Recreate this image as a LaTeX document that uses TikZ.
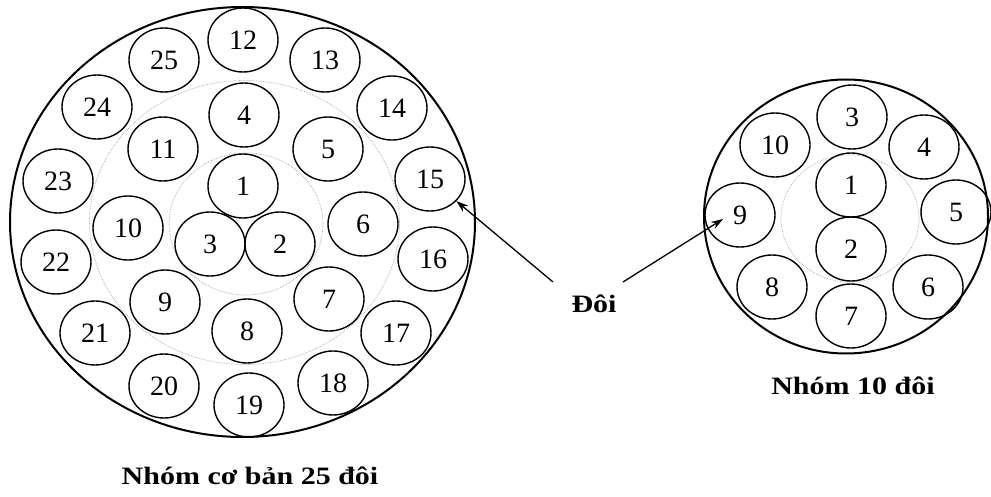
\documentclass[tikz,border=0pt]{standalone}
\usepackage{fontspec}
\setmainfont{Liberation Serif}
\newfontfamily\lblfont[FakeStretch=1.2]{Liberation Serif}
\usetikzlibrary{shapes.geometric,arrows.meta}
\begin{document}
\begin{tikzpicture}[x=1pt,y=-1pt,
  pair/.style={draw,ellipse,line width=1.4pt,minimum width=70pt,minimum height=64pt,inner sep=0pt,
    font=\fontsize{28}{28}\selectfont},
  outerc/.style={draw,ellipse,line width=2pt,inner sep=0pt},
  dotc/.style={draw,ellipse,densely dotted,line width=0.7pt,gray!70,inner sep=0pt},
  lbl/.style={font=\lblfont\bfseries\fontsize{25}{25}\selectfont},
  arr/.style={line width=1.3pt,-{Stealth[length=12pt,width=8pt]}}]
\useasboundingbox (0,0) rectangle (991,497);
% left group
\node[outerc,minimum width=465pt,minimum height=430pt] (LO) at (242.5,222) {};
\node[dotc,minimum width=310pt,minimum height=284pt] (LD2) at (244.5,222.5) {};
\node[dotc,minimum width=154pt,minimum height=142pt] (LD1) at (246,224) {};
\node[pair] (L1) at (243,186) {1};
\node[pair] (L2) at (280,244) {2};
\node[pair] (L3) at (210,244) {3};
\node[pair] (L4) at (244,115) {4};
\node[pair] (L5) at (328,149) {5};
\node[pair] (L6) at (363,224) {6};
\node[pair] (L7) at (329,299) {7};
\node[pair] (L8) at (247,331) {8};
\node[pair] (L9) at (165,302) {9};
\node[pair] (L10) at (128,228) {10};
\node[pair] (L11) at (163,149) {11};
\node[pair] (L12) at (243,40) {12};
\node[pair] (L13) at (325,60) {13};
\node[pair] (L14) at (392,108) {14};
\node[pair] (L15) at (430,179) {15};
\node[pair] (L16) at (433,259) {16};
\node[pair] (L17) at (396,333) {17};
\node[pair] (L18) at (333,383) {18};
\node[pair] (L19) at (249,405) {19};
\node[pair] (L20) at (164,386) {20};
\node[pair] (L21) at (95,333) {21};
\node[pair] (L22) at (56,262) {22};
\node[pair] (L23) at (58,181) {23};
\node[pair] (L24) at (97,107) {24};
\node[pair] (L25) at (164,60) {25};
\node[lbl] (LT) at (250,476) {Nhóm cơ bản 25 đôi};
% right group
\node[outerc,minimum width=284pt,minimum height=274pt] (RO) at (846,216.5) {};
\node[dotc,minimum width=138pt,minimum height=127pt] (RD) at (850,218.5) {};
\node[pair] (R1) at (851,185) {1};
\node[pair] (R2) at (851,249) {2};
\node[pair] (R3) at (852,117) {3};
\node[pair] (R4) at (924,147) {4};
\node[pair] (R5) at (956,212) {5};
\node[pair] (R6) at (928,287) {6};
\node[pair] (R7) at (851,316) {7};
\node[pair] (R8) at (772,287) {8};
\node[pair] (R9) at (740,215) {9};
\node[pair] (R10) at (775,145) {10};
\node[lbl] (RT) at (853,386) {Nhóm 10 đôi};
% label and arrows
\node[lbl] (D) at (594,304) {Đôi};
\coordinate (a1) at (553,282);
\coordinate (a2) at (623,282);
\coordinate (t9) at (723,219);
\draw[arr] (a1) -- (L15);
\draw[arr] (a2) -- (t9);
\end{tikzpicture}
\end{document}
